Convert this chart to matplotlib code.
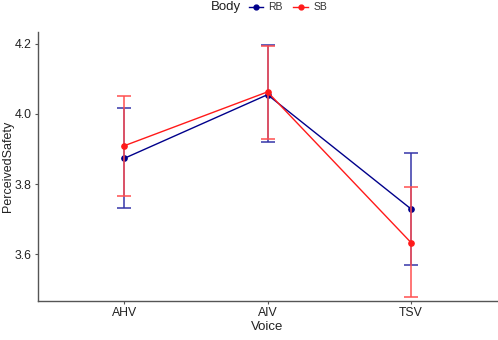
import matplotlib.pyplot as plt
from matplotlib.lines import Line2D

plt.rcParams['font.family'] = ['Liberation Sans', 'DejaVu Sans']

voices = ['AHV', 'AIV', 'TSV']

rb_mean = [3.873, 4.055, 3.729]
rb_low = [3.731, 3.919, 3.569]
rb_high = [4.016, 4.197, 3.888]

sb_mean = [3.909, 4.063, 3.633]
sb_low = [3.766, 3.928, 3.477]
sb_high = [4.051, 4.195, 3.791]

rb_col = '#00008B'
sb_col = '#FF1A1A'

fig = plt.figure(figsize=(4.98, 3.40), dpi=100)
ax = fig.add_axes([38 / 498, 39 / 340, 459 / 498, 269 / 340])

x = list(range(1, len(voices) + 1))

for mean, low, high, col, ecol in [(rb_mean, rb_low, rb_high, rb_col, '#3535A8'),
                                   (sb_mean, sb_low, sb_high, sb_col, '#FF5050')]:
    yerr = [[m - l for m, l in zip(mean, low)], [h - m for m, h in zip(mean, high)]]
    ax.errorbar(x, mean, yerr=yerr, fmt='none', ecolor=ecol, elinewidth=1.1,
                capsize=5, capthick=1.1)
    ax.plot(x, mean, color=col, lw=1.0, marker='o', ms=3.8)

ax.set_xlim(0.4, 3.6)
ax.set_ylim(3.466, 4.234)
ax.set_xticks(x)
ax.set_xticklabels(voices)
ax.set_yticks([3.6, 3.8, 4.0, 4.2])
ax.set_yticklabels(['3.6', '3.8', '4.0', '4.2'])

for s in ['top', 'right']:
    ax.spines[s].set_visible(False)
for s in ['left', 'bottom']:
    ax.spines[s].set_color('#555555')
    ax.spines[s].set_linewidth(1.0)
ax.tick_params(length=2.5, width=0.8, color='#555555', labelsize=8.8, labelcolor='#222222', pad=2)

ax.set_xlabel('Voice', fontsize=9.5, labelpad=1, color='#222222')
ax.set_ylabel('PerceivedSafety', fontsize=9, color='#222222')
ax.yaxis.set_label_coords(-0.052, 0.5)

fig.text(0.424, 0.980, 'Body', fontsize=9.5, va='center', ha='left', color='#222222')
handles = [Line2D([], [], color=rb_col, marker='o', ms=3.5, lw=1.0),
           Line2D([], [], color=sb_col, marker='o', ms=3.5, lw=1.0)]
fig.legend(handles, ['RB', 'SB'], loc='center', bbox_to_anchor=(0.578, 0.978), ncol=2,
           frameon=False, fontsize=7.5, handlelength=1.4, handletextpad=0.5,
           columnspacing=1.0, borderpad=0, labelcolor='#333333')

fig.savefig('out.png', dpi=100)
